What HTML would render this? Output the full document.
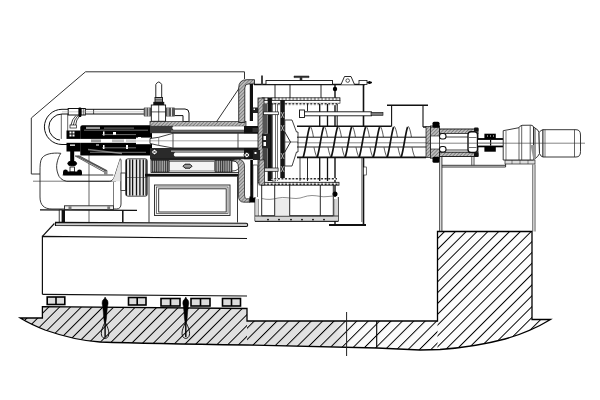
<!DOCTYPE html>
<html><head><meta charset="utf-8"><style>
html,body{margin:0;padding:0;background:#fff;width:600px;height:400px;overflow:hidden}
svg{display:block}
</style></head><body>
<svg width="600" height="400" viewBox="0 0 600 400">
<defs>
<linearGradient id="fbg" gradientUnits="userSpaceOnUse" x1="0" y1="0" x2="600" y2="0">
<stop offset="0" stop-color="#dcdcdc"/><stop offset="0.56" stop-color="#e2e2e2"/><stop offset="0.585" stop-color="#fafafa"/><stop offset="1" stop-color="#fff"/>
</linearGradient>
<pattern id="hatch" patternUnits="userSpaceOnUse" x="6.06" width="7.658" height="7.7" patternTransform="rotate(45)">
<line x1="0" y1="0" x2="0" y2="7.7" stroke="#000" stroke-width="1.95"/>
</pattern>
<pattern id="hatchM" patternUnits="userSpaceOnUse" x="3.3" width="8.06" height="7.7" patternTransform="rotate(45)">
<line x1="0" y1="0" x2="0" y2="7.7" stroke="#000" stroke-width="1.95"/>
</pattern>
<pattern id="hatchR" patternUnits="userSpaceOnUse" x="2.79" width="7.658" height="7.7" patternTransform="rotate(45)">
<line x1="0" y1="0" x2="0" y2="7.7" stroke="#000" stroke-width="1.95"/>
</pattern>
<pattern id="hatchw" patternUnits="userSpaceOnUse" width="7.7" height="7.7" patternTransform="rotate(45)">
<rect width="7.7" height="7.7" fill="#f6f6f6"/>
<line x1="0" y1="0" x2="0" y2="7.7" stroke="#111" stroke-width="1.4"/>
</pattern>
<pattern id="fine" patternUnits="userSpaceOnUse" width="2.5" height="2.5" patternTransform="rotate(45)">
<rect width="2.5" height="2.5" fill="#bbb"/>
<line x1="0" y1="0" x2="0" y2="2.5" stroke="#444" stroke-width="0.9"/>
</pattern>
<pattern id="vstr" patternUnits="userSpaceOnUse" width="2.2" height="4">
<rect width="2.2" height="4" fill="#aaa"/>
<rect width="1" height="4" fill="#333"/>
</pattern>
<pattern id="dots" patternUnits="userSpaceOnUse" width="3.6" height="3" x="0" y="0">
<rect width="3.6" height="3" fill="#fff"/>
<rect x="0.6" y="0.5" width="2" height="2" fill="#222"/>
</pattern>
</defs>
<clipPath id="fclip"><path d="M20.2,318 L42.4,318 L42.4,306.7 L247,308.5 L247,321 L437.5,321 L437.5,231.5 L532,231.5 L532,319.5 L550.5,319.5 Q530,332 505,339 Q475,347 440,349.5 L420,350 L377,348 L247,345 Q150,343.5 100,342 Q75,340.5 45,330 Q30,324 20.2,318 Z"/></clipPath>
<g id="foundation" stroke="#000" stroke-width="1.3" stroke-linejoin="miter">
<path d="M20.2,318 L42.4,318 L42.4,306.7 L247,308.5 L247,321 L437.5,321 L437.5,231.5 L532,231.5 L532,319.5 L550.5,319.5 Q530,332 505,339 Q475,347 440,349.5 L420,350 L377,348 L247,345 Q150,343.5 100,342 Q75,340.5 45,330 Q30,324 20.2,318 Z" fill="url(#fbg)" stroke="none"/>
<g clip-path="url(#fclip)" stroke="none">
<rect x="0" y="220" width="247" height="140" fill="url(#hatch)"/>
<rect x="247" y="220" width="190.5" height="140" fill="url(#hatchM)"/>
<rect x="437.5" y="220" width="130" height="140" fill="url(#hatchR)"/>
</g>
<path d="M20.2,318 L42.4,318 L42.4,306.7 L247,308.5 L247,321 L437.5,321 L437.5,231.5 L532,231.5 L532,319.5 L550.5,319.5 Q530,332 505,339 Q475,347 440,349.5 L420,350 L377,348 L247,345 Q150,343.5 100,342 Q75,340.5 45,330 Q30,324 20.2,318 Z" fill="none"/>
<line x1="376.7" y1="321" x2="376.7" y2="347.5" stroke-width="1.1"/>
</g>
<line x1="346.6" y1="312" x2="346.6" y2="356" stroke="#222" stroke-width="1"/>
<!-- base block -->
<g stroke="#111" stroke-width="1.2" fill="none">
<path d="M42.4,294.3 L42.4,236.4 L247,238.5"/>
<path d="M42.4,236.4 L54.4,223.5"/>
<path d="M42.4,294.3 L247,296"/>
</g>
<!-- pads -->
<g stroke="#000" stroke-width="1.6" fill="#dcdcdc">
<rect x="47.2" y="297" width="17.6" height="7.5"/><line x1="56" y1="297" x2="56" y2="304.5"/>
<rect x="128.5" y="297.5" width="17.5" height="7.5"/><line x1="137.2" y1="297.5" x2="137.2" y2="305"/>
<rect x="161" y="298.5" width="19" height="7.5"/><line x1="170.5" y1="298.5" x2="170.5" y2="306"/>
<rect x="191" y="298.5" width="19" height="7.5"/><line x1="200.5" y1="298.5" x2="200.5" y2="306"/>
<rect x="222.5" y="298.5" width="18" height="7.5"/><line x1="231.5" y1="298.5" x2="231.5" y2="306"/>
</g>
<!-- anchor bolts -->
<g transform="translate(0.09999999999999432,0)">
<path d="M105,297 L106,299 C108,300 108.5,303 107.5,306 L106.8,312 L106.4,318 L105.8,322 L104.2,322 L103.6,318 L103.2,312 L102.5,306 C101.5,303 102,300 104,299 Z" fill="#000" stroke="#000" stroke-width="0.5"/>
<path d="M105,322 C103,326 100.6,331 101.4,335 C102.3,339.5 107.7,339.5 108.6,335 C109.4,331 107,326 105,322 Z" fill="none" stroke="#000" stroke-width="0.9"/>
<line x1="105" y1="322" x2="105" y2="337" stroke="#000" stroke-width="1.4"/>
</g>
<g transform="translate(80.80000000000001,0)">
<path d="M105,297 L106,299 C108,300 108.5,303 107.5,306 L106.8,312 L106.4,318 L105.8,322 L104.2,322 L103.6,318 L103.2,312 L102.5,306 C101.5,303 102,300 104,299 Z" fill="#000" stroke="#000" stroke-width="0.5"/>
<path d="M105,322 C103,326 100.6,331 101.4,335 C102.3,339.5 107.7,339.5 108.6,335 C109.4,331 107,326 105,322 Z" fill="none" stroke="#000" stroke-width="0.9"/>
<line x1="105" y1="322" x2="105" y2="337" stroke="#000" stroke-width="1.4"/>
</g>
<!-- ===== MACHINE LEFT ===== -->
<g id="housing" stroke="#333" stroke-width="1" fill="none">
<path d="M40,174 L31.3,174 L31.3,118 L85.5,71.8 L244.5,71.8 L244.5,79"/>
<line x1="244" y1="81" x2="216.3" y2="122"/>
</g>
<!-- base plates -->
<g stroke="#111" fill="none">
<path d="M40,209.8 L137,210.3" stroke-width="1.3"/>
<rect x="59.2" y="210" width="2.8" height="12.3" stroke-width="0.8" fill="#fff"/>
<rect x="62" y="210" width="3" height="12.3" stroke="none" fill="#111"/>
<line x1="122.8" y1="210.3" x2="122.8" y2="222.2" stroke-width="1.5"/>
<path d="M55.5,222.4 L246.2,223.3 Q247.7,223.4 247.7,224.9 Q247.7,226.5 246.2,226.5 L55.5,225.5 Z" fill="#ccc" stroke-width="1.1"/>
</g>
<!-- motor -->
<g stroke="#222" stroke-width="0.9" fill="none">
<path d="M60.8,153.3 C52,152.5 45,154 42,158 C40,161 40,166 40,172 L40,197 C40,205 44,209 52,209 L116.5,209 C119.5,209 121,207 121,204 L121,160 L120.3,158.75 C118,165 116.5,171 114.5,176.8 C113,180 111.5,181.3 109.8,181.3 L66.7,181.3 C62,180.5 59,177.5 58,174 C56.5,170 56.3,166 57,163 C57.8,159 59,156 60.8,153.3 Z" fill="#fff"/>
<line x1="62.6" y1="175" x2="113.3" y2="175" stroke-width="0.9"/>
<line x1="33" y1="181.2" x2="116" y2="181.2" stroke-width="0.6"/>
<line x1="89" y1="148" x2="89" y2="222" stroke-width="0.7"/>
<line x1="113.5" y1="182" x2="113.5" y2="206" stroke-width="0.6"/>
<rect x="64.5" y="205.8" width="49" height="3.8" fill="#eee"/>
<rect x="68.5" y="206.3" width="3" height="3" fill="#777" stroke="none"/>
<rect x="107.3" y="206.3" width="2.8" height="3" fill="#777" stroke="none"/>
<path d="M114.5,176.8 C116.5,171 118,165 120.3,158.75 L121,181.3 L112,181.3 Z" fill="#e4e4e4" stroke="none"/>
</g>
<!-- valve under rotor + linkage -->
<g stroke="#000" fill="#000">
<rect x="70.2" y="150" width="4" height="12" stroke="none"/>
<ellipse cx="72.2" cy="163.5" rx="4.4" ry="2.2"/>
<rect x="70" y="167" width="4.5" height="5" fill="#fff" stroke-width="0.8"/>
<rect x="63" y="171.6" width="19" height="3.6" stroke="none" rx="1"/>
<circle cx="65.5" cy="172" r="2.4" stroke="none"/><circle cx="79.5" cy="172" r="2.4" stroke="none"/>
</g>
<g stroke="#222" stroke-width="0.7" fill="#fff">
<path d="M75.2,156 L79.6,156 L107,170.6 L106,173 Z"/>
<line x1="76.8" y1="156" x2="106.5" y2="171.6"/>
<line x1="78.2" y1="156" x2="106.8" y2="171"/>
<rect x="104" y="171" width="3.5" height="4" fill="#888" stroke="none"/>
</g>
<!-- pulley -->
<g stroke="#222" stroke-width="0.8">
<rect x="121" y="173" width="4.8" height="17.5" fill="#fff"/>
<path d="M125.8,161 Q125.8,158.8 128,158.8 L145.3,158.8 Q147.3,158.8 147.3,161 L147.3,194 Q147.3,196.2 145.3,196.2 L128,196.2 Q125.8,196.2 125.8,194 Z" fill="#e8e8e8"/>
<g stroke="#111" stroke-width="1.3"><line x1="126.4" y1="159.5" x2="126.4" y2="195.5"/><line x1="129.8" y1="159.5" x2="129.8" y2="195.5"/><line x1="132.6" y1="159.5" x2="132.6" y2="195.5"/><line x1="136.5" y1="159.5" x2="136.5" y2="195.5"/><line x1="139.9" y1="159.5" x2="139.9" y2="195.5"/><line x1="143.3" y1="159.5" x2="143.3" y2="195.5"/><line x1="146.1" y1="159.5" x2="146.1" y2="195.5"/></g>
<line x1="125.8" y1="177.5" x2="147.3" y2="177.5" stroke-width="0.5"/>
</g>
<!-- pipe loop -->
<g stroke="#111" stroke-width="1" fill="none">
<path d="M152,109.3 L62,109.3 A17.6,17.6 0 0 0 62,144.5 L68,144.5"/>
<path d="M152,114 L62,114 A13.2,13.2 0 0 0 62,140.4 L68,140.4"/>
<path d="M166,109 L185,109 Q189,109 189,113 L189,121.5 L183,121.5 L183,115.6 L166,115.6"/>
<rect x="68.2" y="108.5" width="17.1" height="6.5" fill="#fff"/>
<line x1="93.6" y1="109.3" x2="93.6" y2="114" stroke-width="0.8"/>
<path d="M62,111.8 L152,111.8" stroke="#999" stroke-width="0.5"/>
<line x1="81.3" y1="108.5" x2="81.3" y2="115" stroke-width="0.6"/><line x1="83.3" y1="108.5" x2="83.3" y2="115" stroke-width="0.6"/>
<path d="M76,115.5 Q72,119 70.8,125.5 M80,115.5 Q76,119.5 75.5,125.5 M78,115.5 Q74,119.5 73.2,125.5" stroke-width="0.8"/>
<rect x="70" y="125" width="6.5" height="3" fill="#fff" stroke-width="0.7"/>
</g>
<g fill="#000">
<rect x="78.4" y="107.5" width="3" height="9.5" rx="1"/>
<rect x="143.7" y="107.5" width="7.6" height="9" fill="#555" rx="1"/><rect x="145.5" y="107.5" width="1" height="9" fill="#ddd"/><rect x="148.3" y="107.5" width="1" height="9" fill="#ddd"/>
<rect x="165.6" y="107.5" width="9.4" height="9" fill="#555" rx="1"/><rect x="167.5" y="107.5" width="1" height="9" fill="#ddd"/><rect x="171" y="107.5" width="1" height="9" fill="#ddd"/>
</g>
<!-- top valve -->
<g stroke="#111" stroke-width="0.9">
<path d="M155.8,97.5 L155.8,84.5 Q158.7,79.5 161.7,84.5 L161.7,97.5 Z" fill="#fff"/>
<rect x="155" y="97.5" width="7.5" height="5" fill="#bbb"/>
<line x1="155" y1="99.3" x2="162.5" y2="99.3" stroke-width="0.6"/><line x1="155" y1="101" x2="162.5" y2="101" stroke-width="0.6"/>
<rect x="153.8" y="102.3" width="10" height="2.7" fill="#111"/>
<rect x="151.3" y="105" width="14.3" height="16.3" fill="#fff"/>
<line x1="158.7" y1="105" x2="158.7" y2="121.3" stroke-width="0.7"/>
<line x1="151.3" y1="111.9" x2="165.6" y2="111.9" stroke-width="0.7"/>
</g>
<!-- ===== ROTOR ===== -->
<g stroke="#222" stroke-width="0.7" fill="none">
<line x1="61.3" y1="114" x2="61.3" y2="140"/><line x1="67.7" y1="114" x2="67.7" y2="131"/>
</g>
<g id="rotor">
<rect x="66.5" y="130.5" width="14" height="21" fill="#000"/>
<path d="M80.3,155.5 L80.3,127 Q80.3,125.2 82.5,125.2 L152,125.2 L152,155.5 Z" fill="#000"/>
<rect x="60" y="138.9" width="77" height="3.9" fill="#fff"/>
<rect x="91" y="139.4" width="10" height="3" fill="#999"/>
<rect x="112" y="139.4" width="12" height="3" fill="#bbb"/>
<rect x="126" y="139.4" width="10" height="3" fill="#ccc"/>
<g fill="#fff">
<rect x="86" y="126.8" width="14" height="2.2" fill="#999"/>
<rect x="104" y="127.5" width="30" height="1.2" fill="#666"/>
<rect x="69.5" y="131.5" width="2" height="2"/><rect x="72.5" y="131.5" width="2" height="2"/>
<rect x="69.5" y="134.5" width="2" height="2"/><rect x="72.5" y="134.5" width="2" height="2"/>
<rect x="70" y="144.5" width="5" height="1.3"/>
<rect x="103" y="131.5" width="1.5" height="4"/><rect x="113" y="132" width="3" height="3"/>
<rect x="103" y="145" width="1.5" height="4"/>
<rect x="96" y="144.5" width="3" height="1"/>
<rect x="126" y="145" width="2" height="4"/>
<rect x="138" y="137" width="3" height="1.2"/>
</g>
<path d="M88,149.5 L122,153.5" stroke="#777" stroke-width="1.3"/>
<rect x="136" y="137.6" width="15" height="6.6" fill="#fff"/>
<line x1="136" y1="140.9" x2="151" y2="140.9" stroke="#999" stroke-width="0.5"/>
<g stroke="#bbb" stroke-width="0.6">
<line x1="84" y1="130.2" x2="148" y2="130.2"/>
<line x1="102" y1="134.6" x2="136" y2="134.6"/>
<line x1="102" y1="147.8" x2="136" y2="147.8"/>
<line x1="90" y1="152.3" x2="146" y2="152.3"/>
</g>
<path d="M101,130 L130,130" stroke="#444" stroke-width="0.6"/>
</g>
<!-- bowl -->
<g id="bowl">
<rect x="150" y="121.6" width="96" height="4.6" fill="url(#fine)" stroke="#222" stroke-width="0.7"/>
<rect x="150" y="126" width="112" height="7.2" fill="#3a3a3a"/>
<path d="M173.5,126.3 L244,126.3 L244,129.8 L173.5,129.8 Q171,128 173.5,126.3 Z" fill="#fff"/>
<rect x="171" y="130.6" width="73" height="0.9" fill="#999"/>
<rect x="150" y="148" width="112" height="11.2" fill="#2a2a2a"/>
<rect x="171" y="150.4" width="73" height="1.6" fill="#999"/>
<path d="M175,152.4 L244,152.4 L244,156.6 L175,156.6 Q172.5,154.5 175,152.4 Z" fill="#fff"/>
<path d="M150,138.5 L158.7,137.3 L173,133.3 L262,133.3 L262,148 L173,148 L158.7,145.4 L150,143.5 Z" fill="#fff" stroke="#111" stroke-width="0.8"/>
<line x1="158.7" y1="137.3" x2="158.7" y2="145.4" stroke="#444" stroke-width="0.6"/>
<line x1="173" y1="133.3" x2="173" y2="148" stroke="#222" stroke-width="0.8"/>
<line x1="238" y1="133.3" x2="238" y2="148" stroke="#222" stroke-width="0.8"/>
<line x1="150" y1="140.8" x2="262" y2="140.8" stroke="#555" stroke-width="0.5"/>
<rect x="244" y="126" width="18" height="7.3" fill="#111"/>
<rect x="244" y="148" width="18" height="11.2" fill="#111"/>
<circle cx="154.5" cy="152" r="2.8" fill="#fff" stroke="#000" stroke-width="0.8"/>
<path d="M152.6,150.1 L156.4,153.9 M156.4,150.1 L152.6,153.9" stroke="#000" stroke-width="0.7"/>
<circle cx="246.8" cy="155" r="2.8" fill="#fff" stroke="#000" stroke-width="0.8"/>
<path d="M244.9,153.1 L248.7,156.9 M248.7,153.1 L244.9,156.9" stroke="#000" stroke-width="0.7"/>
</g>
<!-- bearing block -->
<g id="bearing">
<rect x="151" y="159" width="89" height="13.5" fill="#fff" stroke="#111" stroke-width="0.8"/>
<rect x="152" y="160" width="17" height="12" fill="url(#vstr)" stroke="#111" stroke-width="0.6"/>
<rect x="215" y="160" width="17" height="12" fill="url(#vstr)" stroke="#111" stroke-width="0.6"/>
<rect x="151" y="159" width="89" height="1.5" fill="#222"/>
<rect x="169.5" y="161.5" width="45" height="9.5" fill="#f4f4f4" stroke="#333" stroke-width="0.6"/>
<path d="M183,166.2 L185,164.2 L190,164.2 L192,166.2 L190,168.2 L185,168.2 Z" fill="#999" stroke="#000" stroke-width="0.9"/>
<path d="M232,161 Q239,161 239,166 Q239,171 232,171" fill="none" stroke="#222" stroke-width="0.8"/>
<rect x="145" y="173.8" width="93.5" height="2.8" fill="#111"/>
</g>
<!-- pedestal -->
<g stroke="#222" fill="none">
<path d="M149,176.5 L149,222.5 M237.5,176.5 L237.5,222.5" stroke-width="0.9"/>
<rect x="154.5" y="185" width="75.5" height="30.5" stroke-width="0.9" fill="#f0f0f0"/>
<rect x="156.5" y="187" width="71.5" height="26.5" stroke-width="0.6" fill="#fff"/>
<rect x="158.7" y="188.8" width="67.5" height="23.2" stroke-width="0.9" fill="#fff"/>
</g>
<!-- ===== RIGHT: collection housing ===== -->
<g id="coll" stroke="#111" fill="none">
<!-- casing curve left -->
<path d="M238.7,122.5 L238.7,88 Q238.7,79.7 247,79.7 L254.5,79.7 L254.5,84 L248,84 Q244.8,84 244.8,88 L244.8,122.5 Z" fill="url(#fine)" stroke-width="0.8"/>
<rect x="249.8" y="84" width="3.2" height="37" fill="#111" stroke="none"/>
<line x1="254" y1="84.5" x2="365" y2="84.5" stroke-width="1.6"/>
<rect x="266" y="80.5" width="66.5" height="4" fill="#fff" stroke-width="0.9"/>
<path d="M294,76 L309,76 L309,77.6 L302,77.6 L302,80.5 L300,80.5 L300,77.6 L294,77.6 Z" fill="#333" stroke-width="0.5"/>
<path d="M341,84.5 L344.5,76.5 L351,76.5 L354.5,84.5" fill="#fff" stroke-width="0.9"/>
<circle cx="347.7" cy="80.6" r="1.8" stroke-width="0.7"/>
<rect x="359" y="80.5" width="8" height="4" fill="#fff" stroke-width="0.8"/>
<path d="M367,82.5 L372,82.5" stroke-width="1.5"/>
<circle cx="369.5" cy="82.5" r="1.5" fill="#000" stroke="none"/>
<!-- top small bolt -->
<rect x="261" y="75.5" width="2" height="9" fill="#444" stroke="none"/>
<!-- right wall -->
<path d="M363.5,84.5 L363.5,126 M363.5,157.5 L363.5,225" stroke-width="1.6"/>
<line x1="361.8" y1="157.5" x2="361.8" y2="222" stroke-width="0.6"/>
<rect x="363.5" y="167" width="3" height="8" fill="#fff" stroke-width="0.6"/>
<path d="M329,225 L366,225" stroke-width="1.8"/>
<path d="M335,84.5 L335,126 M335,157.5 L335,225" stroke-width="1.4"/>
<circle cx="335" cy="89" r="2.2" fill="#000" stroke="none"/>
<circle cx="335" cy="194" r="2.5" fill="#000" stroke="none"/>
<!-- inner verticals upper -->
<line x1="275" y1="84.5" x2="275" y2="98" stroke-width="0.9"/>
<line x1="290" y1="84.5" x2="290" y2="98" stroke-width="0.9"/>
<line x1="321" y1="84.5" x2="321" y2="98" stroke-width="0.9"/>
<!-- dotted band -->
<rect x="262" y="97.8" width="78" height="2.8" fill="url(#dots)" stroke-width="0.7"/>
<rect x="263" y="100.6" width="77" height="2.6" fill="#fff" stroke-width="0.6"/>
<rect x="270" y="103.2" width="68" height="2" fill="url(#dots)" stroke="none"/>
<line x1="319.7" y1="104" x2="319.7" y2="126" stroke-width="1.3"/>
<line x1="327.5" y1="104" x2="327.5" y2="126" stroke-width="1.3"/>
<line x1="337.2" y1="104" x2="337.2" y2="126" stroke-width="1"/>
<line x1="307.5" y1="104" x2="307.5" y2="111" stroke-width="0.9"/>
<!-- rod -->
<rect x="299.5" y="111.8" width="72" height="4" fill="#fff" stroke-width="0.9"/>
<rect x="299.5" y="110" width="5" height="7.5" fill="#fff" stroke-width="0.9"/>
<rect x="371" y="112.3" width="12" height="3" fill="#777" stroke-width="0.6"/>
<!-- left dark verticals -->
<rect x="258" y="98" width="6" height="85" fill="url(#fine)" stroke-width="0.8"/>
<rect x="267.7" y="98" width="4.2" height="83" fill="#111" stroke="none"/>
<rect x="272.5" y="104" width="3" height="77" fill="#fff" stroke-width="0.6"/>
<rect x="280.3" y="100" width="4.5" height="80" fill="#151515" stroke="none"/>
<line x1="277.5" y1="104" x2="277.5" y2="181" stroke-width="0.6"/>
<rect x="262" y="133.5" width="8" height="15" fill="#222" stroke="none"/>
<rect x="263.5" y="136" width="2.5" height="4" fill="#fff" stroke="none"/>
<rect x="263.5" y="142" width="2.5" height="4" fill="#fff" stroke="none"/>
<!-- extra dark texture near disc -->
<rect x="252.5" y="107.5" width="5.5" height="5.5" fill="#222" stroke="none"/>
<rect x="253.5" y="108.5" width="1.5" height="1.5" fill="#fff" stroke="none"/>
<rect x="262.5" y="104" width="5" height="29.5" fill="#555" stroke="none"/>
<rect x="262.5" y="148" width="5" height="20" fill="#444" stroke="none"/>
<rect x="253" y="150" width="7" height="10" fill="#222" stroke="none"/>
<rect x="254.5" y="152" width="2" height="2" fill="#fff" stroke="none"/>
<rect x="252.5" y="128" width="6" height="4" fill="#333" stroke="none"/>
<!-- feed cone -->
<path d="M284.8,120 L292,120 L296.5,132 L298,132 L298,152 L296.5,152 L292,166 L284.8,166 Z" fill="#fff" stroke-width="0.8"/>
<path d="M284.8,132 L290.5,142 L284.8,152" stroke-width="0.9"/>
<line x1="284.8" y1="142" x2="298" y2="142" stroke-width="0.6"/>
<path d="M281,112 L284,118 M284,112 L281,118 M281,125 L284,131 M284,125 L281,131 M281,153 L284,159 M284,153 L281,159 M281,166 L284,172 M284,166 L281,172" stroke="#fff" stroke-width="0.6"/>
<!-- bottom hatched band -->
<rect x="261" y="182.3" width="78" height="2.9" fill="url(#dots)" stroke-width="0.8"/>
<rect x="271" y="178" width="66" height="2" fill="url(#dots)" stroke="none"/>
<rect x="264.4" y="168" width="13.7" height="3.3" fill="#ddd" stroke-width="0.7"/>
<rect x="263.4" y="111.9" width="15.2" height="2.8" fill="#fff" stroke-width="0.7"/>
<!-- lower verticals -->
<line x1="319.7" y1="157.5" x2="319.7" y2="181" stroke-width="1.3"/>
<line x1="327.5" y1="157.5" x2="327.5" y2="181" stroke-width="1.3"/>
<line x1="307.5" y1="157.5" x2="307.5" y2="181" stroke-width="0.9"/>
<line x1="300" y1="157.5" x2="300" y2="181" stroke-width="0.8"/>
</g>
<!-- screw -->
<g id="screw" stroke="#111" fill="none">
<line x1="297" y1="126.2" x2="391.6" y2="126.2" stroke-width="1.5"/>
<line x1="423" y1="127" x2="426" y2="127" stroke-width="1.5"/>
<line x1="297" y1="157.4" x2="426" y2="157.4" stroke-width="1.6"/>
<line x1="297" y1="137.2" x2="426" y2="137.2" stroke-width="1"/>
<line x1="297" y1="147" x2="426" y2="147" stroke-width="0.9"/>
<line x1="297" y1="142.8" x2="426" y2="142.8" stroke-width="0.5"/>
<path d="M303.2,157.3 C305.7,150 307.7,131 309.6,127.2" stroke-width="1.7"/>
<path d="M309.6,127.2 Q310.2,125.6 311.0,127.5 C312.2,130 313.0,134 313.4,137 M314.0,147.3 C314.7,151 315.7,155.5 317.2,157.3" stroke-width="0.7"/>
<path d="M317.2,157.3 C319.7,150 321.7,131 323.6,127.2" stroke-width="1.7"/>
<path d="M323.6,127.2 Q324.2,125.6 325.0,127.5 C326.2,130 327.0,134 327.4,137 M328.0,147.3 C328.7,151 329.7,155.5 331.2,157.3" stroke-width="0.7"/>
<path d="M331.2,157.3 C333.7,150 335.7,131 337.6,127.2" stroke-width="1.7"/>
<path d="M337.6,127.2 Q338.2,125.6 339.0,127.5 C340.2,130 341.0,134 341.4,137 M342.0,147.3 C342.7,151 343.7,155.5 345.2,157.3" stroke-width="0.7"/>
<path d="M345.2,157.3 C347.7,150 349.7,131 351.6,127.2" stroke-width="1.7"/>
<path d="M351.6,127.2 Q352.2,125.6 353.0,127.5 C354.2,130 355.0,134 355.4,137 M356.0,147.3 C356.7,151 357.7,155.5 359.2,157.3" stroke-width="0.7"/>
<path d="M359.2,157.3 C361.7,150 363.7,131 365.6,127.2" stroke-width="1.7"/>
<path d="M365.6,127.2 Q366.2,125.6 367.0,127.5 C368.2,130 369.0,134 369.4,137 M370.0,147.3 C370.7,151 371.7,155.5 373.2,157.3" stroke-width="0.7"/>
<path d="M373.2,157.3 C375.7,150 377.7,131 379.6,127.2" stroke-width="1.7"/>
<path d="M379.6,127.2 Q380.2,125.6 381.0,127.5 C382.2,130 383.0,134 383.4,137 M384.0,147.3 C384.7,151 385.7,155.5 387.2,157.3" stroke-width="0.7"/>
<path d="M387.2,157.3 C389.7,150 391.7,131 393.6,127.2" stroke-width="1.7"/>
<path d="M393.6,127.2 Q394.2,125.6 395.0,127.5 C396.2,130 397.0,134 397.4,137 M398.0,147.3 C398.7,151 399.7,155.5 401.2,157.3" stroke-width="0.7"/>
<path d="M401.2,157.3 C403.7,150 405.7,131 407.6,127.2" stroke-width="1.7"/>
<path d="M407.6,127.2 Q408.2,125.6 409.0,127.5 C410.2,130 411.0,134 411.4,137 M412.0,147.3 C412.7,151 413.7,155.5 415.2,157.3" stroke-width="0.7"/>
</g>
<!-- hopper -->
<g stroke="#111" fill="none">
<path d="M387,105.3 L428,105.3" stroke-width="1.6"/>
<path d="M391.6,105.3 L391.6,126.2 M423,105.3 L423,127" stroke-width="1.1"/>
</g>
<!-- lower casing -->
<g stroke="#111">
<path d="M230,160 Q238.5,160 238.5,168 L238.5,196 Q238.5,202.2 244,202.2 L250,202.2 L250,198.8 L246.5,198.8 Q244.5,198.8 244.5,195 L244.5,166 Q244.5,160 238,159 Z" fill="url(#fine)" stroke-width="0.7"/>
<rect x="250.3" y="160" width="2.6" height="42" fill="#000" stroke="none"/>
<rect x="249.5" y="196.5" width="5.5" height="6" fill="#000" stroke="none"/>
<rect x="253" y="165" width="4.5" height="33" fill="#fff" stroke-width="0.6"/>
<rect x="259" y="160" width="5.5" height="25" fill="url(#fine)" stroke-width="0.6"/>
<line x1="251.7" y1="185" x2="251.7" y2="197" stroke-width="0.8"/>
</g>
<!-- tank -->
<g stroke="#111" fill="none">
<path d="M255,197 L255,221.3 L338.3,221.3 L338.3,197" stroke-width="0.9" fill="#fff"/>
<path d="M258.5,199 L258.5,218 L335,218 L335,199" stroke-width="0.7"/>
<rect x="255.5" y="216" width="82.3" height="5" fill="#d6d6d6" stroke="none"/>
<rect x="255.5" y="199" width="3" height="19" fill="#d6d6d6" stroke="none"/>
<rect x="335" y="199" width="3" height="19" fill="#d6d6d6" stroke="none"/>
<path d="M255,221.3 L338.3,221.3 M255,216 L338.3,216" stroke-width="0.8"/>
<path d="M261.7,185 L261.7,215.8 L333.3,215.8 L333.3,185" stroke-width="0.9"/>
<rect x="274.7" y="198.5" width="15" height="17.3" fill="#ececec" stroke="none"/>
<line x1="274.7" y1="185" x2="274.7" y2="215.8" stroke-width="0.9"/>
<line x1="289.7" y1="185" x2="289.7" y2="215.8" stroke-width="0.9"/>
<line x1="320.3" y1="185" x2="320.3" y2="215.8" stroke-width="0.9"/>
<path d="M261.7,198.5 C268,200 272,199.5 278,198 C284,196.5 290,198.5 296,198.5 C302,198.5 305,195.5 312,195.5 C318,195.5 322,197.5 328,196.5 L333.3,196" stroke-width="0.6" stroke="#444"/>
<g fill="#000" stroke="none"><circle cx="268" cy="219.6" r="0.9"/><circle cx="279" cy="219.6" r="0.9"/><circle cx="291" cy="219.6" r="0.9"/><circle cx="302" cy="219.6" r="0.9"/><circle cx="313" cy="219.6" r="0.9"/><circle cx="324" cy="219.6" r="0.9"/></g>
</g>
<!-- ===== bearing housing ===== -->
<g stroke="#111">
<rect x="426" y="126.5" width="4.5" height="31" fill="url(#fine)" stroke-width="0.7"/>
<rect x="430.5" y="126" width="9" height="32" fill="#fff" stroke-width="0.8"/>
<rect x="430.5" y="127" width="9" height="9" fill="url(#fine)" stroke-width="0.6"/>
<rect x="430.5" y="149" width="9" height="9" fill="url(#fine)" stroke-width="0.6"/>
<rect x="432.5" y="121.8" width="7" height="6" rx="1.5" fill="#000" stroke="none"/>
<rect x="432.5" y="156.8" width="7" height="6" rx="1.5" fill="#000" stroke="none"/>
<rect x="439.5" y="129" width="38.5" height="4.5" fill="url(#fine)" stroke-width="0.9"/>
<rect x="439.5" y="152" width="38.5" height="4.5" fill="url(#fine)" stroke-width="0.9"/>
<rect x="439.5" y="133.5" width="38.5" height="18.5" fill="#fff" stroke-width="0.6"/>
<line x1="439.5" y1="137" x2="478" y2="137" stroke-width="0.8"/>
<line x1="439.5" y1="150" x2="478" y2="150" stroke-width="0.8"/>
<rect x="439.5" y="133.5" width="6.5" height="5.5" rx="2.5" fill="#fff" stroke-width="1.1"/>
<rect x="439.5" y="146.5" width="6.5" height="5.5" rx="2.5" fill="#fff" stroke-width="1.1"/>
<rect x="468" y="131.7" width="9.5" height="20.8" rx="3" fill="#fff" stroke="#111" stroke-width="1.4"/>
<line x1="469" y1="137.5" x2="476.5" y2="137.5" stroke-width="0.6"/>
<line x1="469" y1="147.5" x2="476.5" y2="147.5" stroke-width="0.6"/>
<rect x="474" y="127.5" width="4.5" height="4" rx="1" fill="#111" stroke="none"/>
<rect x="474" y="152.8" width="4.5" height="4" rx="1" fill="#111" stroke="none"/>
<rect x="484.4" y="133.7" width="11.4" height="18" fill="#000" stroke="none"/>
<rect x="478" y="138.1" width="25.7" height="9.2" fill="#000" stroke="none"/>
<rect x="478" y="139.9" width="25" height="5.7" fill="#fff" stroke="none"/>
<rect x="490" y="139.9" width="1.2" height="5.7" fill="#000" stroke="none"/>
<line x1="478" y1="143" x2="503" y2="143" stroke="#999" stroke-width="0.6"/>
<rect x="487" y="135" width="1" height="2" fill="#777" stroke="none"/><rect x="490" y="135" width="1" height="2" fill="#777" stroke="none"/><rect x="493" y="135" width="1" height="2" fill="#777" stroke="none"/>
</g>
<!-- stand -->
<g stroke="#222" fill="none">
<path d="M439.7,157 L439.7,231.5 M441.9,157 L441.9,231.5" stroke-width="0.9"/>
<path d="M532.8,164.5 L532.8,231.5 M535,164.5 L535,231.5" stroke-width="0.9" stroke="#444"/>
<path d="M441.9,165.3 L505.6,165.3 M441.9,167 L505.6,167 L505.6,164" stroke-width="0.9"/>
<path d="M441.9,156.5 L474,156.5 M471.8,156.5 L471.8,165.3 M474,156.5 L474,165.3" stroke-width="0.8"/>
<rect x="505" y="160" width="30" height="4" fill="#ddd" stroke-width="0.7"/>
<path d="M512,160 L512,164 M520,160 L520,164 M528,160 L528,164" stroke-width="0.5"/>
</g>
<!-- gearbox -->
<g stroke="#222" fill="#fff" stroke-width="0.9">
<path d="M503.2,160 L503.2,130.7 L519,127.7 Q520,125.5 522,125.3 L531,125.2 Q533,125.2 533.5,127 L533.5,160 Z"/>
<line x1="506" y1="131" x2="506" y2="160" stroke-width="0.6"/>
<line x1="519" y1="127.7" x2="519" y2="160" stroke-width="0.7"/>
<line x1="521.7" y1="126" x2="521.7" y2="160" stroke-width="0.7"/>
<line x1="530.2" y1="125.5" x2="530.2" y2="160" stroke-width="0.7"/>
<path d="M533.5,127 Q536,128 536.5,130 Q535,143 536.5,156 Q536,158 533.5,160 Z" fill="#fff"/>
<path d="M535,128.3 Q538,129 539,132.5 L539.5,153.5 Q538,157 535,158.5 Z" fill="#fff"/>
<path d="M539,132.5 Q541,130 543,129.7 L543,157 Q541,157 539.5,153.5 Z" fill="#fff"/>
<path d="M530.5,145 L536,145 L536,158 L533.5,160 Z" fill="#999" stroke="none"/>
<path d="M543,129.7 L576,129.7 Q580.5,129.7 580.5,135 L580.5,151.7 Q580.5,157 576,157 L543,157 Z"/>
<line x1="545" y1="129.7" x2="545" y2="157" stroke-width="0.6"/>
<line x1="574.5" y1="129.7" x2="574.5" y2="157" stroke-width="0.7"/>
</g>
<line x1="426" y1="143.2" x2="585" y2="143.2" stroke="#333" stroke-width="0.6"/>
</svg>
</body></html>
